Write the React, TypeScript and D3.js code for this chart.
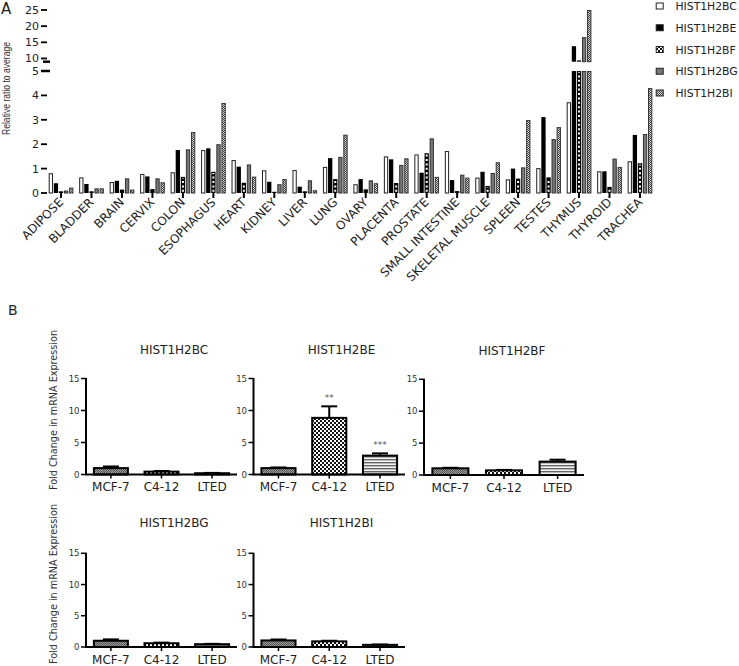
import React from 'react';
import * as d3 from 'd3';

// ---------- Panel A data ----------
const tissues = ['ADIPOSE', 'BLADDER', 'BRAIN', 'CERVIX', 'COLON', 'ESOPHAGUS', 'HEART', 'KIDNEY', 'LIVER', 'LUNG', 'OVARY', 'PLACENTA', 'PROSTATE', 'SMALL INTESTINE', 'SKELETAL MUSCLE', 'SPLEEN', 'TESTES', 'THYMUS', 'THYROID', 'TRACHEA'];
const genes = ['HIST1H2BC', 'HIST1H2BE', 'HIST1H2BF', 'HIST1H2BG', 'HIST1H2BI'];
const bcValues = [0.81, 0.64, 0.45, 0.78, 0.85, 1.76, 1.35, 0.93, 0.94, 1.07, 0.36, 1.5, 1.58, 1.72, 0.63, 0.56, 1.02, 3.72, 0.89, 1.3];
const beValues = [0.4, 0.37, 0.5, 0.68, 1.76, 1.83, 1.08, 0.46, 0.26, 1.43, 0.57, 1.38, 0.83, 0.53, 0.87, 1.0, 3.11, 13.8, 0.89, 2.38];
const bfValues = [0.07, 0.07, 0.14, 0.16, 0.66, 0.87, 0.42, 0.05, 0.07, 0.57, 0.15, 0.41, 1.63, 0.08, 0.29, 0.59, 0.64, 9.4, 0.25, 1.22];
const bgValues = [0.1, 0.19, 0.6, 0.6, 1.79, 2.0, 1.17, 0.36, 0.52, 1.48, 0.52, 1.15, 2.24, 0.75, 0.82, 1.05, 2.21, 16.6, 1.41, 2.42];
const biValues = [0.22, 0.19, 0.14, 0.44, 2.5, 3.69, 0.67, 0.57, 0.11, 2.39, 0.4, 1.42, 0.66, 0.63, 1.26, 2.99, 2.7, 25, 1.07, 4.3];
const lowerTicks = [0, 1, 2, 3, 4];
const upperTicks = [10, 15, 20, 25];

// ---------- Panel B data ----------
const cellLines = ['MCF-7', 'C4-12', 'LTED'];
const panelTitles = ['HIST1H2BC', 'HIST1H2BE', 'HIST1H2BF', 'HIST1H2BG', 'HIST1H2BI'];
const meanBC = [1.0, 0.45, 0.2];
const meanBE = [1.0, 8.85, 2.95];
const meanBF = [1.05, 0.73, 2.1];
const meanBG = [1.0, 0.6, 0.45];
const meanBI = [1.05, 0.9, 0.35];
const errBC = [0.25, 0.1, 0.05];
const errBE = [0.1, 1.8, 0.35];
const errBF = [0.08, 0.07, 0.3];
const errBG = [0.22, 0.1, 0.05];
const errBI = [0.15, 0.1, 0.05];
const sigBE = ['', '**', '***'];
const bTicks = [0, 5, 10, 15];

const FONT = 'Verdana, DejaVu Sans, sans-serif';

type Layout = { ax: number; xe: number; y0: number; y15: number };
const layouts: Layout[] = [
  { ax: 86, xe: 237, y0: 474.5, y15: 378.5 },
  { ax: 253.5, xe: 405, y0: 474.5, y15: 378.5 },
  { ax: 424, xe: 584, y0: 475, y15: 379.3 },
  { ax: 86, xe: 237, y0: 647, y15: 553.3 },
  { ax: 253.5, xe: 405, y0: 647, y15: 553.3 },
];

function Defs() {
  return (
    <defs>
      <pattern id="fine" width="2" height="2" patternUnits="userSpaceOnUse">
        <rect width="2" height="2" fill="#d8d8d8" />
        <rect width="1" height="1" fill="#444" />
        <rect x="1" y="1" width="1" height="1" fill="#444" />
      </pattern>
      <pattern id="fineGray" width="2" height="2" patternUnits="userSpaceOnUse">
        <rect width="2" height="2" fill="#9a9a9a" />
        <rect width="1" height="1" fill="#555" />
        <rect x="1" y="1" width="1" height="1" fill="#555" />
      </pattern>
      <pattern id="checker" width="4" height="4" patternUnits="userSpaceOnUse">
        <rect width="4" height="4" fill="#fff" />
        <rect width="2" height="2" fill="#111" />
        <rect x="2" y="2" width="2" height="2" fill="#111" />
      </pattern>
      <pattern id="stripes" width="3" height="3" patternUnits="userSpaceOnUse">
        <rect width="3" height="3" fill="#f2f2f2" />
        <rect width="3" height="1.4" fill="#666" />
      </pattern>
    </defs>
  );
}

function PanelA() {
  const seriesValues = [bcValues, beValues, bfValues, bgValues, biValues];
  const x0 = d3.scaleBand<string>().domain(tissues).range([45.8, 655.2]);
  const x1 = d3.scaleBand<string>().domain(genes).range([2.9, 27.6]).paddingInner(0.157);
  const yLow = d3.scaleLinear().domain([0, 5]).range([193, 71]);
  const yHigh = d3.scaleLinear().domain([9, 25]).range([61.7, 10]);

  const segs = (v: number) => {
    if (v <= 5) return [[yLow(v), yLow(0)]];
    return [[yLow(5), yLow(0)], [yHigh(v), yHigh(9)]];
  };

  const bars: JSX.Element[] = [];
  tissues.forEach((t, ti) => {
    genes.forEach((g, gi) => {
      const v = seriesValues[gi][ti];
      const bx = (x0(t) as number) + (x1(g) as number);
      const bw = x1.bandwidth();
      segs(v).forEach(([top, bot], si) => {
        const h = bot - top;
        const key = `${ti}-${gi}-${si}`;
        if (gi === 0) {
          bars.push(<rect key={key} x={bx + 0.5} y={top + 0.5} width={bw - 1} height={Math.max(h - 0.5, 0)} fill="#fff" stroke="#222" strokeWidth={1} />);
        } else if (gi === 1) {
          bars.push(<rect key={key} x={bx} y={top} width={bw} height={h} fill="#000" />);
        } else if (gi === 2) {
          bars.push(
            <g key={key}>
              <rect x={bx} y={top} width={bw} height={h} fill="#000" />
              {h > 4 && <line x1={bx + bw / 2} x2={bx + bw / 2} y1={bot - 1.2} y2={top + 1.2} stroke="#fff" strokeWidth={2} strokeDasharray="2 2.4" />}
            </g>
          );
        } else if (gi === 3) {
          bars.push(<rect key={key} x={bx + 0.5} y={top + 0.5} width={bw - 1} height={Math.max(h - 0.5, 0)} fill="#777" stroke="#333" strokeWidth={1} />);
        } else {
          bars.push(<rect key={key} x={bx + 0.5} y={top + 0.5} width={bw - 1} height={Math.max(h - 0.5, 0)} fill="url(#fine)" stroke="#333" strokeWidth={1} />);
        }
      });
    });
  });

  const legendFill = ['#fff', '#000', 'url(#checker)', '#777', 'url(#fine)'];
  const legendY = d3.scaleLinear().domain([0, 4]).range([6, 93]);

  return (
    <g>
      <text x={1} y={14} fontSize={15} fontFamily={FONT} fill="#222">A</text>
      <text transform={`translate(10,88.5) rotate(-90)`} textAnchor="middle" fontSize={10} textLength={93} lengthAdjust="spacingAndGlyphs" fontFamily="'Liberation Sans Narrow', 'Arial Narrow', 'Liberation Sans', sans-serif" fill="#333">Relative ratio to average</text>
      {lowerTicks.map((t) => (
        <g key={`lt${t}`}>
          <line x1={41} x2={47} y1={yLow(t)} y2={yLow(t)} stroke="#000" strokeWidth={1.8} />
          <text x={39} y={yLow(t) + 4} textAnchor="end" fontSize={11} fontFamily={FONT} fill="#222">{t}</text>
        </g>
      ))}
      <line x1={41} x2={50} y1={yLow(5)} y2={yLow(5)} stroke="#000" strokeWidth={2.5} />
      <text x={39} y={yLow(5) + 4} textAnchor="end" fontSize={11} fontFamily={FONT} fill="#222">5</text>
      <line x1={43} x2={50} y1={yHigh(9)} y2={yHigh(9)} stroke="#000" strokeWidth={2.5} />
      {upperTicks.map((t) => (
        <g key={`ut${t}`}>
          <line x1={41} x2={47} y1={yHigh(t)} y2={yHigh(t)} stroke="#000" strokeWidth={1.8} />
          <text x={39} y={yHigh(t) + 4} textAnchor="end" fontSize={11} fontFamily={FONT} fill="#222">{t}</text>
        </g>
      ))}
      {bars}
      {tissues.map((t) => {
        const cx = (x0(t) as number) + x0.bandwidth() / 2;
        return (
          <g key={`xt${t}`}>
            <line x1={cx} x2={cx} y1={193} y2={198} stroke="#000" strokeWidth={2} />
            <text transform={`translate(${cx + 3},203) rotate(-45)`} textAnchor="end" fontSize={12} fontFamily={FONT} fill="#222">{t}</text>
          </g>
        );
      })}
      {genes.map((g, i) => (
        <g key={`lg${g}`}>
          <rect x={656.2} y={legendY(i) - 3} width={7} height={6} fill={legendFill[i]} stroke="#222" strokeWidth={1} />
          <text x={675.5} y={legendY(i) + 4} fontSize={10.8} fontFamily={FONT} fill="#222">{g}</text>
        </g>
      ))}
    </g>
  );
}

function SmallPanel({ idx, means, errs, sig }: { idx: number; means: number[]; errs: number[]; sig?: string[] }) {
  const L = layouts[idx];
  const x = d3.scaleBand<string>().domain(cellLines).range([L.ax, L.xe]).paddingInner(0.328).paddingOuter(0.156);
  const y = d3.scaleLinear().domain([0, 15]).range([L.y0, L.y15]);
  const fills = ['url(#fineGray)', 'url(#checker)', 'url(#stripes)'];
  return (
    <g>
      <text x={L.ax + 88} y={L.y0 - 120.5} textAnchor="middle" fontSize={12} fontFamily={FONT} fill="#222">{panelTitles[idx]}</text>
      {cellLines.map((c, i) => {
        const bx = x(c) as number;
        const bw = x.bandwidth();
        const cx = bx + bw / 2;
        const top = y(means[i]);
        const et = y(means[i] + errs[i]);
        return (
          <g key={c}>
            <line x1={cx} x2={cx} y1={top} y2={et} stroke="#000" strokeWidth={2} />
            <line x1={cx - 8} x2={cx + 8} y1={et} y2={et} stroke="#000" strokeWidth={2} />
            <rect x={bx} y={top} width={bw} height={L.y0 - top} fill={fills[i]} stroke="#000" strokeWidth={2} />
            <line x1={cx} x2={cx} y1={L.y0} y2={L.y0 + 4} stroke="#000" strokeWidth={1.5} />
            <text x={cx} y={L.y0 + 16.5} textAnchor="middle" fontSize={12} fontFamily={FONT} fill="#222">{c}</text>
            {sig && sig[i] && (
              <text x={cx} y={et - 5} textAnchor="middle" fontSize={9} fontFamily={FONT} fill="#555">{sig[i]}</text>
            )}
          </g>
        );
      })}
      <line x1={L.ax} x2={L.ax} y1={L.y0} y2={L.y15 - 0.5} stroke="#000" strokeWidth={2} />
      <line x1={L.ax - 1} x2={L.xe} y1={L.y0} y2={L.y0} stroke="#000" strokeWidth={2} />
      {bTicks.map((t) => (
        <g key={t}>
          <line x1={L.ax - 5} x2={L.ax} y1={y(t)} y2={y(t)} stroke="#000" strokeWidth={1.5} />
          <text x={L.ax - 6.5} y={y(t) + 3} textAnchor="end" fontSize={8.5} fontFamily={FONT} fill="#333">{t}</text>
        </g>
      ))}
    </g>
  );
}

function PanelB() {
  return (
    <g>
      <text x={8} y={315} fontSize={14} fontFamily={FONT} fill="#222">B</text>
      <text transform="translate(57,410) rotate(-90)" textAnchor="middle" fontSize={10} textLength={160} lengthAdjust="spacingAndGlyphs" fontFamily={FONT} fill="#333">Fold Change in mRNA Expression</text>
      <text transform="translate(57,584) rotate(-90)" textAnchor="middle" fontSize={10} textLength={160} lengthAdjust="spacingAndGlyphs" fontFamily={FONT} fill="#333">Fold Change in mRNA Expression</text>
      <SmallPanel idx={0} means={meanBC} errs={errBC} />
      <SmallPanel idx={1} means={meanBE} errs={errBE} sig={sigBE} />
      <SmallPanel idx={2} means={meanBF} errs={errBF} />
      <SmallPanel idx={3} means={meanBG} errs={errBG} />
      <SmallPanel idx={4} means={meanBI} errs={errBI} />
    </g>
  );
}

export default function App() {
  return (
    <div style={{ position: 'absolute', left: 0, top: 0 }}>
      <svg width={739} height={666} style={{ display: 'block', background: '#fff' }}>
        <Defs />
        <PanelA />
        <PanelB />
      </svg>
    </div>
  );
}
